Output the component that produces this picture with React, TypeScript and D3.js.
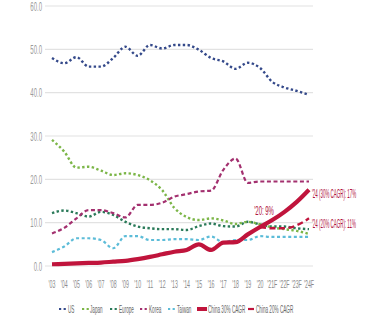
import React from "react";
import * as d3 from "d3";

const categories = ["'03","'04","'05","'06","'07","'08","'09","'10","'11","'12","'13","'14","'15","'16","'17","'18","'19","'20","'21F","'22F","'23F","'24F"];
const yTicks = [0, 10, 20, 30, 40, 50, 60];

const usValues = [48.0,46.8,48.2,46.0,46.0,48.0,50.6,48.5,51.0,50.2,51.0,51.0,49.9,48.0,47.2,45.5,46.9,45.7,42.5,41.2,40.4,39.5];
const japanValues = [29.1,26.4,22.7,22.9,22.0,21.0,21.4,21.0,19.8,17.5,13.4,11.3,10.6,11.0,10.5,9.7,10.2,9.6,8.9,8.5,8.1,7.4];
const europeValues = [12.2,12.8,12.2,11.4,12.5,11.8,10.2,9.1,8.7,8.5,8.5,8.3,9.2,9.8,9.2,9.1,10.2,9.6,9.1,9.1,8.7,8.5];
const koreaValues = [7.5,8.8,11.0,12.9,12.9,12.2,11.2,14.1,14.1,14.6,16.0,16.6,17.2,17.4,22.2,24.8,19.2,19.5,19.5,19.5,19.5,19.5];
const taiwanValues = [3.2,4.5,6.4,6.4,6.0,4.1,6.9,6.9,6.0,6.0,6.2,6.2,6.0,6.8,5.5,6.0,6.0,6.9,6.7,6.7,6.7,6.7];
const china30Values = [0.4,0.5,0.6,0.7,0.8,1.0,1.2,1.6,2.1,2.7,3.3,3.7,5.0,3.7,5.4,5.5,7.3,9.0,10.6,12.5,14.8,17.6];
const china20Categories = ["'20","'21F","'22F","'23F","'24F"];
const china20Values = [9.0,8.7,8.7,9.4,11.0];

const seriesNames = ["US","Japan","Europe","Korea","Taiwan","China 30% CAGR","China 20% CAGR"];
const annotation20 = "'20: 9%";
const annotation30 = "'24 (30% CAGR): 17%";
const annotation20c = "'24 (20% CAGR): 11%";

type Style = { color: string; width: number; dash: string | null };
const styles: Style[] = [
  { color: "#34498a", width: 2.4, dash: "2.4,2.4" },
  { color: "#7cb648", width: 2.4, dash: "2.4,2.4" },
  { color: "#2a7a59", width: 2.4, dash: "2.4,2.4" },
  { color: "#a3306f", width: 2.2, dash: "4,2.6" },
  { color: "#5cbcd8", width: 2.2, dash: "3,2.6" },
  { color: "#c0143c", width: 4.2, dash: null },
  { color: "#c0143c", width: 2.4, dash: "6,3.5" },
];

const FONT = "'Liberation Sans', Arial, sans-serif";

function T({ x, y, s, size, fill, anchor = "start", sx = 0.5 }: { x: number; y: number; s: string; size: number; fill: string; anchor?: string; sx?: number }) {
  return (
    <text transform={`translate(${x},${y}) scale(${sx},1)`} fontSize={size} fill={fill} textAnchor={anchor as any} fontFamily={FONT}>
      {s}
    </text>
  );
}

export default function App() {
  const W = 384, H = 328;
  const x = d3.scalePoint<string>().domain(categories).range([52, 309]);
  const y = d3.scaleLinear().domain([0, 60]).range([266, 6]);
  const line = d3.line<[string, number]>().x((d) => x(d[0]) as number).y((d) => y(d[1])).curve(d3.curveMonotoneX);

  const allSeries: [string, number][][] = [
    usValues, japanValues, europeValues, koreaValues, taiwanValues, china30Values,
  ].map((vals) => categories.map((c, i) => [c, vals[i]] as [string, number]));
  allSeries.push(china20Categories.map((c, i) => [c, china20Values[i]] as [string, number]));

  const order = [2, 1, 4, 3, 0, 6, 5];

  const legendX = [59, 82, 110, 140, 168, 197, 248];
  const legendTextX = [68, 90, 119, 149, 177, 208, 256];
  const legendY = 312;

  const lastCat = categories[categories.length - 1];

  return (
    <svg width={W} height={H} style={{ position: "absolute", left: 0, top: 0, background: "#fff" }}>
      {yTicks.map((t) => (
        <g key={t}>
          <line x1={45} x2={313} y1={y(t)} y2={y(t)} stroke="#e2e2e2" strokeWidth={1.2} />
          <T x={42} y={y(t) + 4.5} s={t.toFixed(1)} size={12} fill="#9a9a9a" anchor="end" sx={0.5} />
        </g>
      ))}
      {categories.map((c) => (
        <T key={c} x={x(c) as number} y={288} s={c} size={10.5} fill="#8a8a8a" anchor="middle" sx={0.5} />
      ))}
      {order.map((i) => (
        <path key={i} d={line(allSeries[i]) || ""} fill="none" stroke={styles[i].color} strokeWidth={styles[i].width}
          strokeDasharray={styles[i].dash || undefined} strokeLinecap="butt" />
      ))}
      <T x={x("'20") as number + 4} y={y(9) - 12} s={annotation20} size={12} fill="#b0123e" anchor="middle" sx={0.5} />
      <T x={(x(lastCat) as number) + 3} y={y(china30Values[china30Values.length - 1]) + 8} s={annotation30} size={12} fill="#b0123e" sx={0.37} />
      <T x={(x(lastCat) as number) + 3} y={y(china20Values[china20Values.length - 1]) + 10} s={annotation20c} size={12} fill="#b0123e" sx={0.37} />
      {seriesNames.map((n, i) => {
        const st = styles[i];
        const len = i === 5 ? 10 : 7;
        return (
          <g key={n}>
            <line x1={legendX[i]} x2={legendX[i] + len} y1={legendY - 3} y2={legendY - 3} stroke={st.color}
              strokeWidth={i === 5 ? 4 : 2.2} strokeDasharray={i === 5 ? undefined : i === 6 ? "6,3" : "2.2,2.4"} />
            <T x={legendTextX[i]} y={legendY + 1} s={n} size={10.5} fill="#666" sx={0.44} />
          </g>
        );
      })}
    </svg>
  );
}
